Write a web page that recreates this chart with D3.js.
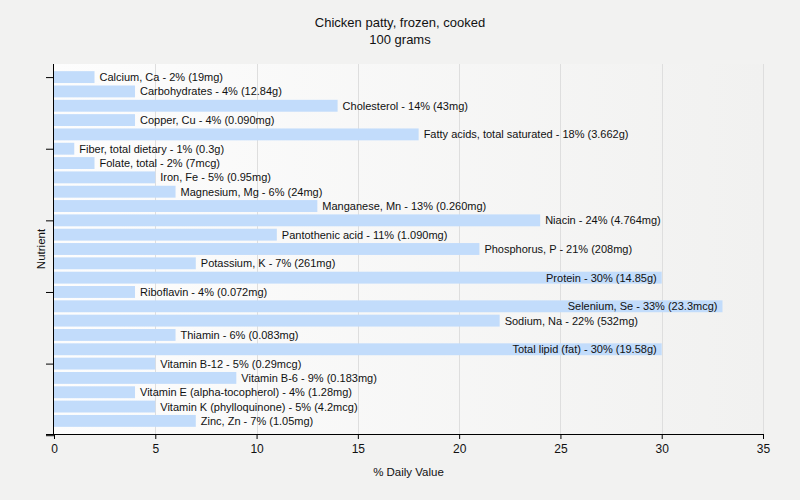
<!DOCTYPE html>
<html>
<head>
<meta charset="utf-8">
<script src="https://cdn.jsdelivr.net/npm/d3@7"></script>
<style>
  html, body { margin: 0; padding: 0; background: #f2f2f1; }
  svg { display: block; font-family: "Liberation Sans", Arial, sans-serif; }
</style>
</head>
<body>
<svg id="chart" width="800" height="500"></svg>
<script>
const titleLines = ["Chicken patty, frozen, cooked", "100 grams"];
const nutrients = [
  "Calcium, Ca", "Carbohydrates", "Cholesterol", "Copper, Cu", "Fatty acids, total saturated",
  "Fiber, total dietary", "Folate, total", "Iron, Fe", "Magnesium, Mg", "Manganese, Mn",
  "Niacin", "Pantothenic acid", "Phosphorus, P", "Potassium, K", "Protein",
  "Riboflavin", "Selenium, Se", "Sodium, Na", "Thiamin", "Total lipid (fat)",
  "Vitamin B-12", "Vitamin B-6", "Vitamin E (alpha-tocopherol)", "Vitamin K (phylloquinone)", "Zinc, Zn"
];
const dailyValues = [2, 4, 14, 4, 18, 1, 2, 5, 6, 13, 24, 11, 21, 7, 30, 4, 33, 22, 6, 30, 5, 9, 4, 5, 7];
const amounts = [
  "19mg", "12.84g", "43mg", "0.090mg", "3.662g",
  "0.3g", "7mcg", "0.95mg", "24mg", "0.260mg",
  "4.764mg", "1.090mg", "208mg", "261mg", "14.85g",
  "0.072mg", "23.3mcg", "532mg", "0.083mg", "19.58g",
  "0.29mcg", "0.183mg", "1.28mg", "4.2mcg", "1.05mg"
];
const xTicks = [0, 5, 10, 15, 20, 25, 30, 35];
const yTickIndices = [0, 5, 10, 15, 20, 25];
const xLabel = "% Daily Value";
const yLabel = "Nutrient";

const svg = d3.select("#chart");
const pLeft = 54, pRight = 763, pTop = 64, pBottom = 434;

const x = d3.scaleLinear().domain([0, 35]).range([pLeft, pRight]);
const y = d3.scaleBand().domain(nutrients).range([pTop, pBottom]).paddingInner(0.17).paddingOuter(0.5);
const yIdx = d3.scaleLinear().domain([0, 1]).range([y(nutrients[0]) + y.bandwidth() / 2, y(nutrients[1]) + y.bandwidth() / 2]);

// plot background gradient
const defs = svg.append("defs");
const grad = defs.append("linearGradient").attr("id", "bg").attr("x1", "0").attr("x2", "1").attr("y1", "0").attr("y2", "0");
grad.append("stop").attr("offset", "0%").attr("stop-color", "#fdfdfd");
grad.append("stop").attr("offset", "100%").attr("stop-color", "#f1f1f0");
svg.append("rect").attr("x", pLeft).attr("y", pTop).attr("width", pRight - pLeft).attr("height", pBottom - pTop).attr("fill", "url(#bg)");

// grid
svg.append("g").selectAll("line").data(xTicks.slice(1)).join("line")
  .attr("x1", d => Math.round(x(d)) + 0.5).attr("x2", d => Math.round(x(d)) + 0.5).attr("y1", pTop).attr("y2", pBottom)
  .attr("stroke", "#dedede").attr("stroke-width", 1);

// bars
svg.append("g").selectAll("rect").data(nutrients).join("rect")
  .attr("x", x(0)).attr("y", d => y(d)).attr("width", (d, i) => x(dailyValues[i]) - x(0))
  .attr("height", y.bandwidth()).attr("fill", "#c2dcfb");

// labels
const labels = svg.append("g").selectAll("text").data(nutrients).join("text")
  .attr("y", d => y(d) + y.bandwidth() / 2)
  .attr("dy", "0.36em")
  .attr("font-size", 11)
  .attr("fill", "#111")
  .text((d, i) => `${d} - ${dailyValues[i]}% (${amounts[i]})`);
labels.each(function(d, i) {
  const w = this.getComputedTextLength();
  const end = x(dailyValues[i]);
  const t = d3.select(this);
  if (end + 5 + w > pRight) {
    t.attr("x", end - 5).attr("text-anchor", "end");
  } else {
    t.attr("x", end + 5).attr("text-anchor", "start");
  }
});

// x axis
const xAxis = svg.append("g").attr("transform", `translate(0,${pBottom})`)
  .call(d3.axisBottom(x).tickValues(xTicks).tickSize(5).tickSizeOuter(0));
xAxis.select(".domain").attr("d", `M${pLeft - 8},0.5H${pRight}`).attr("stroke", "#000");
xAxis.selectAll("text").attr("font-size", 12).attr("font-family", "Liberation Sans, Arial, sans-serif").attr("fill", "#111").attr("dy", "0.95em");

// y axis
const yAxis = svg.append("g").attr("transform", `translate(${pLeft},0)`)
  .call(d3.axisLeft(yIdx).tickValues(yTickIndices).tickFormat("").tickSize(8).tickSizeOuter(0));
yAxis.select(".domain").attr("d", `M-0.5,${pTop}V${pBottom + 1}`).attr("stroke", "#000");

// titles
svg.append("text").attr("x", 400).attr("y", 27).attr("text-anchor", "middle").attr("font-size", 13).attr("fill", "#111").text(titleLines[0]);
svg.append("text").attr("x", 400).attr("y", 44).attr("text-anchor", "middle").attr("font-size", 13).attr("fill", "#111").text(titleLines[1]);
svg.append("text").attr("x", (pLeft + pRight) / 2).attr("y", 476).attr("text-anchor", "middle").attr("font-size", 11.5).attr("fill", "#111").text(xLabel);
svg.append("text").attr("transform", `translate(45,${(pTop + pBottom) / 2}) rotate(-90)`).attr("text-anchor", "middle").attr("font-size", 11.5).attr("fill", "#111").text(yLabel);
</script>
</body>
</html>
